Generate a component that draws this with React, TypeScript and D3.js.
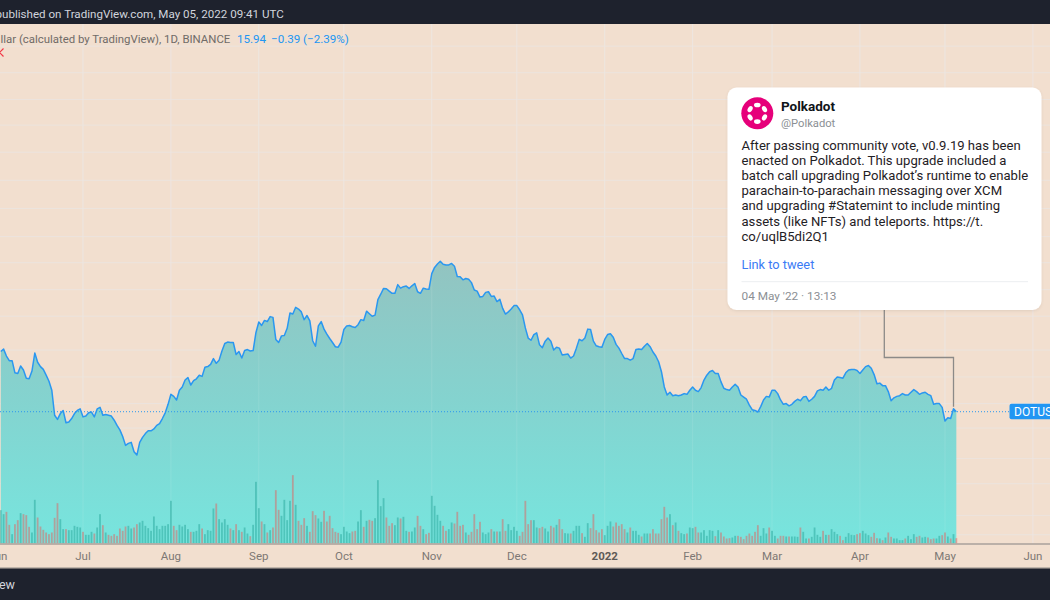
import React from "react";
import * as d3 from "d3";

// ---------- data ----------
const START_DATE = "2021-06-02";

const closes: number[] = [
  25.7, 26.2, 24.8, 23.9, 23.9, 21.7, 21.6, 22.9, 22.2, 20.8,
  20.7, 22.0, 25.4, 23.6, 22.8, 22.3, 21.3, 20.3, 18.9, 15.5,
  15.0, 15.7, 16.1, 14.6, 14.7, 15.1, 15.7, 16.1, 16.3, 15.3,
  15.4, 15.8, 15.9, 15.3, 16.3, 16.5, 15.5, 15.6, 15.5, 15.4,
  14.9, 14.3, 13.8, 13.1, 12.2, 12.4, 12.5, 11.6, 11.3, 12.5,
  13.0, 13.4, 13.7, 13.7, 13.9, 14.3, 14.5, 15.1, 15.8, 16.9,
  18.3, 18.0, 17.5, 18.9, 19.4, 20.5, 20.9, 19.7, 20.4, 20.7,
  21.3, 21.1, 22.7, 22.8, 23.2, 24.3, 23.4, 24.0, 25.8, 27.4,
  27.7, 27.6, 27.6, 25.1, 25.7, 24.4, 25.9, 26.1, 25.8, 25.9,
  29.9, 32.5, 31.6, 32.9, 32.6, 33.9, 33.7, 28.3, 27.6, 29.1,
  29.2, 30.9, 34.9, 34.6, 36.5, 36.0, 35.2, 33.1, 34.2, 32.8,
  28.0, 26.8, 31.5, 32.6, 30.7, 29.5, 28.5, 27.6, 26.7, 26.6,
  27.7, 30.6, 31.5, 31.6, 31.3, 31.1, 31.8, 33.1, 32.9, 35.4,
  34.7, 34.0, 34.3, 38.8, 40.5, 42.4, 42.3, 41.5, 40.8, 40.8,
  43.7, 42.5, 43.0, 43.2, 42.4, 43.3, 44.1, 41.3, 40.8, 42.5,
  42.2, 42.1, 47.7, 50.1, 51.5, 52.6, 51.4, 51.1, 51.1, 51.7,
  50.6, 46.6, 46.5, 45.4, 45.9, 45.6, 44.4, 41.9, 41.5, 39.6,
  39.8, 41.1, 41.3, 39.8, 39.9, 38.2, 38.9, 36.2, 34.6, 35.2,
  36.0, 37.0, 37.0, 35.8, 34.4, 31.0, 28.6, 28.1, 29.4, 29.8,
  27.1, 26.5, 27.9, 28.6, 27.9, 26.0, 26.6, 26.4, 25.0, 25.1,
  25.2, 24.4, 24.8, 26.4, 28.3, 28.0, 28.6, 30.7, 30.6, 27.9,
  26.9, 26.7, 26.6, 28.3, 29.4, 29.6, 28.8, 27.2, 26.4, 25.3,
  24.3, 24.3, 24.0, 24.3, 26.1, 26.2, 26.1, 26.8, 27.4, 26.7,
  25.6, 24.8, 23.7, 21.9, 19.4, 18.2, 18.6, 18.1, 18.2, 18.1,
  18.2, 18.4, 18.3, 18.9, 19.4, 18.9, 18.7, 19.3, 20.5, 21.3,
  21.9, 22.1, 21.6, 21.6, 20.2, 19.2, 19.0, 18.9, 19.4, 19.8,
  19.4, 18.2, 17.9, 17.6, 16.8, 16.2, 16.1, 15.9, 16.6, 17.5,
  18.0, 17.9, 18.9, 18.9, 18.4, 17.5, 16.9, 17.0, 16.7, 16.9,
  17.3, 17.6, 17.4, 17.9, 18.0, 17.3, 17.6, 18.0, 18.8, 19.0,
  18.9, 19.4, 18.9, 19.2, 20.5, 21.0, 20.9, 20.8, 21.7, 22.2,
  22.3, 22.3, 22.1, 21.6, 22.2, 22.8, 23.0, 22.5, 21.4, 19.9,
  20.0, 19.6, 19.6, 18.7, 17.4, 17.8, 18.0, 18.1, 18.4, 18.2,
  18.2, 18.6, 19.0, 18.7, 18.3, 18.5, 18.6, 18.3, 18.1, 16.9,
  17.0, 17.0, 16.5, 14.8, 15.2, 15.1, 16.33, 15.94,
];

const volumes: number[] = [
  10.0, 8.8, 9.5, 5.6, 2.8, 5.8, 7.0, 9.1, 8.8, 8.5,
  5.0, 3.3, 13.1, 7.8, 5.1, 4.1, 3.3, 2.8, 3.3, 7.7,
  12.1, 7.3, 4.3, 4.3, 4.0, 4.0, 5.3, 5.0, 4.8, 3.5,
  2.6, 2.6, 3.5, 3.0, 4.8, 8.8, 5.5, 3.3, 2.6, 2.3,
  2.8, 2.3, 4.5, 3.8, 5.1, 5.3, 4.5, 4.8, 5.8, 6.3,
  6.8, 5.3, 4.6, 3.8, 8.1, 5.3, 4.3, 5.3, 5.3, 5.8,
  12.8, 5.3, 4.0, 5.6, 5.1, 5.6, 4.3, 3.5, 3.5, 3.8,
  5.8, 4.5, 2.8, 4.0, 3.8, 10.5, 12.0, 7.3, 6.3, 7.3,
  5.6, 4.5, 4.0, 5.8, 4.0, 3.5, 4.8, 3.0, 2.2, 5.6,
  18.5, 10.6, 6.6, 5.8, 3.3, 4.0, 4.8, 16.0, 10.1, 8.3,
  13.1, 7.0, 12.8, 20.5, 11.6, 6.8, 5.6, 7.6, 5.3, 3.5,
  9.7, 8.5, 7.5, 6.5, 9.8, 6.6, 8.3, 4.6, 3.5, 3.2,
  2.8, 5.0, 3.6, 3.1, 3.6, 3.8, 6.6, 10.0, 5.0, 6.8,
  7.1, 6.8, 7.6, 19.0, 11.2, 13.6, 7.8, 5.3, 6.1, 5.5,
  7.8, 7.5, 8.0, 3.8, 3.5, 3.6, 4.8, 8.3, 5.3, 4.3,
  2.8, 3.2, 14.3, 11.3, 8.6, 6.8, 5.3, 3.8, 4.3, 6.3,
  6.0, 9.5, 5.3, 5.6, 3.3, 2.6, 3.5, 8.8, 4.3, 6.5,
  3.3, 2.8, 3.3, 4.3, 3.6, 3.6, 3.6, 7.3, 3.8, 5.8,
  4.0, 5.0, 3.8, 2.3, 3.5, 12.8, 5.8, 7.0, 7.0, 4.8,
  4.6, 5.0, 4.5, 3.6, 5.3, 4.8, 5.6, 7.3, 4.3, 3.1,
  3.0, 3.0, 3.8, 5.3, 5.3, 3.1, 2.0, 6.1, 4.6, 8.8,
  4.0, 3.3, 4.3, 2.5, 5.3, 6.6, 5.1, 6.3, 5.3, 5.8,
  4.3, 3.3, 4.8, 3.8, 3.8, 2.6, 2.1, 3.0, 3.0, 3.0,
  4.3, 3.0, 3.0, 7.3, 11.0, 7.8, 8.8, 5.5, 6.3, 3.8,
  3.1, 2.8, 3.0, 4.8, 4.6, 5.0, 3.3, 3.3, 4.0, 2.3,
  4.0, 3.8, 2.2, 4.0, 3.3, 2.1, 1.5, 1.6, 1.8, 2.3,
  2.3, 2.0, 1.3, 2.3, 3.0, 2.3, 3.5, 5.5, 2.3, 4.6,
  3.0, 4.8, 3.8, 2.3, 1.5, 2.3, 2.3, 2.1, 2.1, 2.1,
  2.1, 2.0, 4.8, 3.5, 1.5, 1.5, 2.0, 4.8, 2.6, 2.0,
  3.8, 2.6, 2.6, 4.3, 3.5, 2.8, 2.3, 1.0, 2.0, 3.1,
  2.6, 2.5, 2.8, 3.1, 3.8, 3.0, 2.5, 2.0, 3.2, 1.6,
  1.5, 1.0, 1.8, 3.3, 2.0, 1.5, 1.5, 1.0, 1.0, 1.5,
  2.3, 1.3, 2.8, 2.0, 2.3, 1.8, 2.0, 1.8, 1.3, 1.5,
  1.5, 2.3, 2.5, 3.3, 2.1, 1.5, 2.8, 1.6,
];

const tickDates = [
  "2021-06-01", "2021-07-01", "2021-08-01", "2021-09-01", "2021-10-01", "2021-11-01",
  "2021-12-01", "2022-01-01", "2022-02-01", "2022-03-01", "2022-04-01", "2022-05-01", "2022-06-01",
];
const tickLabels = ["Jun", "Jul", "Aug", "Sep", "Oct", "Nov", "Dec", "2022", "Feb", "Mar", "Apr", "May", "Jun"];

const gridPrices = [6, 7, 9, 11, 14, 17, 21, 26, 34, 42, 52, 64, 80, 100, 125, 155, 190, 235, 290, 360];

const lastPrice = 15.94;
const headerText = "published on TradingView.com, May 05, 2022 09:41 UTC";
const legendTitle = "llar (calculated by TradingView), 1D, BINANCE";
const legendValue = "15.94";
const legendChange = "\u22120.39 (\u22122.39%)";
const symbolLabel = "DOTUSD";

const tweetName = "Polkadot";
const tweetHandle = "@Polkadot";
const tweetLines = [
  "After passing community vote, v0.9.19 has been",
  "enacted on Polkadot. This upgrade included a",
  "batch call upgrading Polkadot\u2019s runtime to enable",
  "parachain-to-parachain messaging over XCM",
  "and upgrading #Statemint to include minting",
  "assets (like NFTs) and teleports. https://t.",
  "co/uqlB5di2Q1",
];
const tweetLink = "Link to tweet";
const tweetDate = "04 May '22 \u00b7 13:13";
const tweetDay = "2022-05-04";

// ---------- component ----------
export default function App() {
  const W = 1050;
  const H = 600;
  const topBarH = 24;
  const plotBottom = 543.5;
  const axisBottom = 568;
  const font = "Roboto, 'Noto Sans', 'DejaVu Sans', sans-serif";

  const start = new Date(START_DATE + "T00:00:00Z");
  const dates = closes.map((_, i) => d3.utcDay.offset(start, i));

  const x = d3
    .scaleUtc()
    .domain([new Date("2021-07-01T00:00:00Z"), new Date("2022-05-01T00:00:00Z")])
    .range([83, 945]);
  const y = d3.scaleLog().domain([10, 60]).range([470.45, 244.7]);
  const vy = d3.scaleLinear().domain([0, 24]).range([plotBottom, plotBottom - 80]);

  const area = d3
    .area<number>()
    .x((_, i) => x(dates[i]))
    .y0(plotBottom)
    .y1((d) => y(d));
  const line = d3
    .line<number>()
    .x((_, i) => x(dates[i]))
    .y((d) => y(d));

  const ticks = tickDates.map((t) => new Date(t + "T00:00:00Z"));
  const lastY = y(lastPrice);
  const tweetX = x(new Date(tweetDay + "T00:00:00Z"));

  const barW = 1.8;
  const cardX = 727.5;
  const cardY = 87.5;
  const cardW = 314;
  const cardH = 222.5;
  const logoCx = 757.3;
  const logoCy = 113.3;

  return (
    <svg
      width={W}
      height={H}
      style={{ position: "absolute", left: 0, top: 0, display: "block" }}
      fontFamily={font}
    >
      <defs>
        <linearGradient id="areaGrad" gradientUnits="userSpaceOnUse" x1="0" y1="255" x2="0" y2={plotBottom}>
          <stop offset="0" stopColor="#93c3c0" />
          <stop offset="0.5" stopColor="#84d3cf" />
          <stop offset="1" stopColor="#77e5de" />
        </linearGradient>
        <filter id="cardShadow" x="-10%" y="-10%" width="120%" height="120%">
          <feDropShadow dx="0" dy="1" stdDeviation="1.5" floodColor="#000" floodOpacity="0.08" />
        </filter>
        <clipPath id="plotClip">
          <rect x={0} y={topBarH} width={W} height={plotBottom - topBarH} />
        </clipPath>
      </defs>

      {/* background */}
      <rect x={0} y={0} width={W} height={H} fill="#f2dfcf" />

      {/* gridlines */}
      <g clipPath="url(#plotClip)">
        {gridPrices.map((p) => (
          <line key={"h" + p} x1={0} x2={W} y1={y(p)} y2={y(p)} stroke="#ece4de" strokeWidth={1} />
        ))}
        {ticks.map((t, i) => (
          <line key={"v" + i} x1={x(t)} x2={x(t)} y1={topBarH} y2={plotBottom} stroke="#ece4de" strokeWidth={1} />
        ))}
      </g>

      {/* area + volume */}
      <g clipPath="url(#plotClip)">
        <path d={area(closes) || ""} fill="url(#areaGrad)" />
        {ticks.map((t, i) => (
          <line key={"vo" + i} x1={x(t)} x2={x(t)} y1={topBarH} y2={plotBottom} stroke="#ffffff" strokeOpacity={0.1} />
        ))}
        {volumes.map((v, i) => {
          const up = i === 0 || closes[i] >= closes[i - 1];
          return (
            <rect
              key={"vb" + i}
              x={x(dates[i]) - barW / 2}
              y={vy(v)}
              width={barW}
              height={plotBottom - vy(v)}
              fill={up ? "rgba(38,166,154,0.5)" : "rgba(239,83,80,0.45)"}
            />
          );
        })}
        <path d={line(closes) || ""} fill="none" stroke="#2a97f0" strokeWidth={1.5} strokeLinejoin="round" />
        {/* last price dotted line */}
        <line x1={0} x2={1010} y1={lastY} y2={lastY} stroke="#2a97f0" strokeWidth={1} strokeDasharray="1 2" />
      </g>

      {/* price label */}
      <rect x={1009.5} y={lastY - 8} width={60} height={15.5} rx={2} fill="#2196f3" />
      <text x={1014} y={lastY + 4.3} fontSize={12} fill="#ffffff">
        {symbolLabel}
      </text>

      {/* connector from tweet to chart */}
      <path
        d={`M${884.3},${cardY + cardH} V357.5 H${tweetX} V${lastY - 5}`}
        fill="none"
        stroke="#8c8a88"
        strokeWidth={1.3}
      />

      {/* tweet card */}
      <rect x={cardX} y={cardY} width={cardW} height={cardH} rx={9} fill="#ffffff" filter="url(#cardShadow)" />
      <circle cx={logoCx} cy={logoCy} r={16} fill="#e6007a" />
      {d3.range(6).map((k) => {
        const a = (k * Math.PI) / 3 - Math.PI / 2;
        const cx = logoCx + Math.cos(a) * 8.3;
        const cy = logoCy + Math.sin(a) * 8.3;
        return (
          <ellipse
            key={"dot" + k}
            cx={cx}
            cy={cy}
            rx={3.3}
            ry={2.3}
            transform={`rotate(${(a * 180) / Math.PI + 90},${cx},${cy})`}
            fill="#ffffff"
          />
        );
      })}
      <text x={781} y={111} fontSize={13.5} fontWeight="bold" fill="#0f1419">
        {tweetName}
      </text>
      <text x={781} y={127} fontSize={11.2} fill="#8b8f94">
        {tweetHandle}
      </text>
      {tweetLines.map((l, i) => (
        <text key={"tl" + i} x={741.5} y={149.5 + i * 15.2} fontSize={13.1} fill="#1f2125">
          {l}
        </text>
      ))}
      <text x={741.5} y={269} fontSize={12.8} fill="#3b7cf5">
        {tweetLink}
      </text>
      <line x1={741.5} x2={1028} y1={281.7} y2={281.7} stroke="#eceef1" strokeWidth={1} />
      <text x={741.5} y={300} fontSize={11.8} fill="#8b8f94">
        {tweetDate}
      </text>

      {/* legend */}
      <text x={0.5} y={42.5} fontSize={11.4} fill="#6f6b68">
        {legendTitle}
      </text>
      <text x={237} y={42.5} fontSize={11.6} fill="#2196f3">
        {legendValue}
      </text>
      <text x={271} y={42.5} fontSize={11.6} fill="#2196f3">
        {legendChange}
      </text>
      <path d="M-0.5,52.5 L3.5,48.5 M-0.5,52.5 L3.5,56.5" stroke="#f23645" strokeWidth={1.2} fill="none" />

      {/* time axis */}
      <line x1={0} x2={W} y1={plotBottom + 0.5} y2={plotBottom + 0.5} stroke="#a8a19b" strokeWidth={1.5} />
      {ticks.map((t, i) => (
        <text
          key={"tx" + i}
          x={x(t)}
          y={560}
          fontSize={11.5}
          textAnchor="middle"
          fill={tickLabels[i] === "2022" ? "#5e5a57" : "#7d7874"}
          fontWeight={tickLabels[i] === "2022" ? "bold" : "normal"}
        >
          {tickLabels[i]}
        </text>
      ))}
      <line x1={0} x2={W} y1={axisBottom} y2={axisBottom} stroke="#8f8a86" strokeWidth={1} />

      {/* top and bottom bars */}
      <rect x={0} y={0} width={W} height={topBarH} fill="#1e222d" />
      <text x={-4.5} y={17.5} fontSize={11.6} fill="#d1d4dc">
        {headerText}
      </text>
      <rect x={0} y={axisBottom + 0.5} width={W} height={H - axisBottom} fill="#1e222d" />
      <text x={15} y={589} fontSize={12.5} textAnchor="end" fill="#d1d4dc">
        TradingView
      </text>
    </svg>
  );
}
